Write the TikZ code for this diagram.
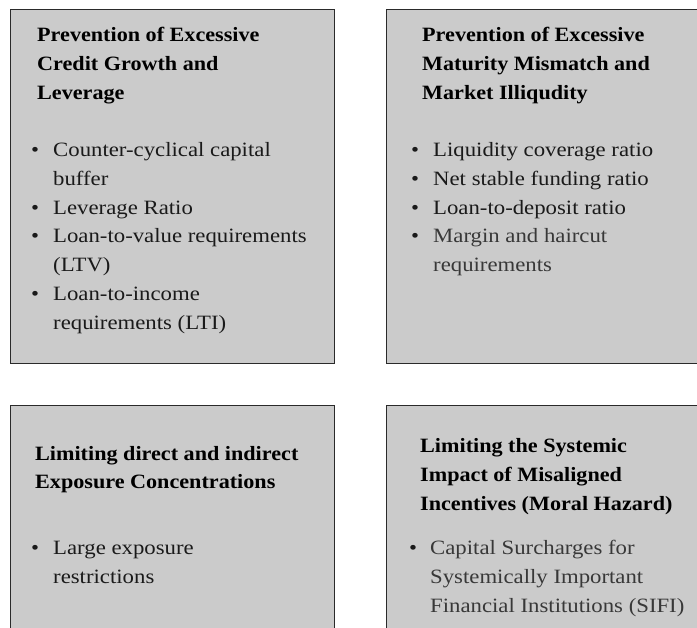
\documentclass[tikz,border=0pt]{standalone}
\usepackage{fontspec}
\setmainfont{Liberation Serif}[UprightFeatures={FakeStretch=1.12}, BoldFeatures={FakeStretch=1.09}]
\definecolor{boxfill}{HTML}{CBCBCB}
\definecolor{boxline}{HTML}{2A2A2A}
\definecolor{itemtext}{HTML}{1A1A1A}
\definecolor{itemlight}{HTML}{383838}
\tikzset{
  panel/.style={draw=boxline, line width=1.3bp, fill=boxfill, inner sep=0pt, anchor=north west},
  ttl/.style={anchor=base west, inner sep=0pt, font=\fontsize{20.4}{22}\selectfont\bfseries, text=black},
  itm/.style={anchor=base west, inner sep=0pt, font=\fontsize{20.4}{22}\selectfont, text=itemtext},
  itml/.style={itm, text=itemlight},
  bul/.style={anchor=base west, inner sep=0pt, font=\fontsize{20.4}{22}\selectfont, text=itemtext}
}
\begin{document}
\begin{tikzpicture}[x=1bp,y=-1bp]
\useasboundingbox (0,0) rectangle (697,628);
\begin{scope}
\clip (0,0) rectangle (697,628);
\node[panel, minimum width=324bp, minimum height=354bp] (p1) at (10,9) {};
\node[panel, minimum width=340bp, minimum height=354bp] (p2) at (386,9) {};
\node[panel, minimum width=324bp, minimum height=250bp] (p3) at (10,405) {};
\node[panel, minimum width=340bp, minimum height=250bp] (p4) at (386,405) {};
\end{scope}
% panel 1
\node[ttl] (a1) at (37,41.5) {Prevention of Excessive};
\node[ttl] (a2) at (37,70.3) {Credit Growth and};
\node[ttl] (a3) at (37,99.1) {Leverage};
\node[bul] (ab1) at (31,156.5) {•};
\node[itm] (ai1) at (53,156.5) {Counter-cyclical capital};
\node[itm] (ai2) at (53,185.3) {buffer};
\node[bul] (ab2) at (31,214.1) {•};
\node[itm] (ai3) at (53,214.1) {Leverage Ratio};
\node[bul] (ab3) at (31,242.9) {•};
\node[itm] (ai4) at (53,242.9) {Loan-to-value requirements};
\node[itm] (ai5) at (53,271.7) {(LTV)};
\node[bul] (ab4) at (31,300.5) {•};
\node[itm] (ai6) at (53,300.5) {Loan-to-income};
\node[itm] (ai7) at (53,329.3) {requirements (LTI)};
% panel 2
\node[ttl] (b1) at (422,41.5) {Prevention of Excessive};
\node[ttl] (b2) at (422,70.3) {Maturity Mismatch and};
\node[ttl] (b3) at (422,99.1) {Market Illiqudity};
\node[bul] (bb1) at (411,156.5) {•};
\node[itm] (bi1) at (433,156.5) {Liquidity coverage ratio};
\node[bul] (bb2) at (411,185.3) {•};
\node[itm] (bi2) at (433,185.3) {Net stable funding ratio};
\node[bul] (bb3) at (411,214.1) {•};
\node[itm] (bi3) at (433,214.1) {Loan-to-deposit ratio};
\node[bul] (bb4) at (411,242.9) {•};
\node[itml] (bi4) at (433,242.9) {Margin and haircut};
\node[itml] (bi5) at (433,271.7) {requirements};
% panel 3
\node[ttl] (c1) at (35,460) {Limiting direct and indirect};
\node[ttl] (c2) at (35,488.8) {Exposure Concentrations};
\node[bul] (cb1) at (31,554.5) {•};
\node[itm] (ci1) at (53,554.5) {Large exposure};
\node[itm] (ci2) at (53,583.3) {restrictions};
% panel 4
\node[ttl] (d1) at (420,452.7) {Limiting the Systemic};
\node[ttl] (d2) at (420,481.5) {Impact of Misaligned};
\node[ttl] (d3) at (420,510.3) {Incentives (Moral Hazard)};
\node[bul] (db1) at (409,554.5) {•};
\node[itml] (di1) at (430,554.5) {Capital Surcharges for};
\node[itml] (di2) at (430,583.3) {Systemically Important};
\node[itml] (di3) at (430,612.1) {Financial Institutions (SIFI)};
\end{tikzpicture}
\end{document}
